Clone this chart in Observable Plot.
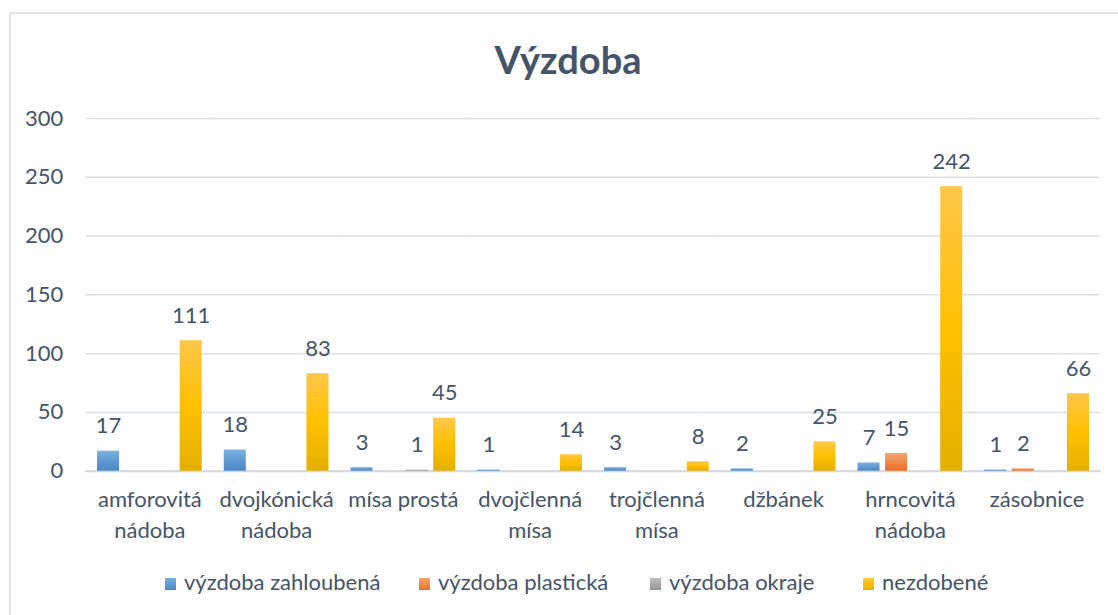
<!DOCTYPE html>
<html><head><meta charset="utf-8">
<script src="https://cdn.jsdelivr.net/npm/d3@7"></script>
<script src="https://cdn.jsdelivr.net/npm/@observablehq/plot@0.6"></script>
<style>
body{margin:0;background:#fff;font-family:Lato,"Open Sans",sans-serif;}
#wrap{position:relative;width:1118px;height:615px;overflow:hidden;background:#fff}
#frame{position:absolute;left:9px;top:12px;width:1200px;height:700px;border:2px solid #dfe3e9;box-sizing:border-box}
#title{position:absolute;left:0;width:1136px;top:40px;line-height:1;text-align:center;font-weight:bold;font-size:38px;color:#44546a}
#chart{position:absolute;left:0;top:0}
#legend{position:absolute;top:570px;left:0;height:24px;font-size:22px;color:#44546a;line-height:24px}
.item{position:absolute;white-space:nowrap}
.sw{display:inline-block;width:11px;height:12px;margin-right:8px;vertical-align:0px}
</style></head>
<body>
<div id="wrap">
  <div id="frame"></div>
  <div id="title">Výzdoba</div>
  <div id="chart"></div>
  <div id="legend"></div>
</div>
<script>
const categories = ["amforovitá\nnádoba","dvojkónická\nnádoba","mísa prostá","dvojčlenná\nmísa","trojčlenná\nmísa","džbánek","hrncovitá\nnádoba","zásobnice"];
const series = ["výzdoba zahloubená","výzdoba plastická","výzdoba okraje","nezdobené"];
const zahloubena = [17,18,3,1,3,2,7,1];
const plasticka  = [null,null,null,null,null,null,15,2];
const okraje     = [null,null,1,null,null,null,null,null];
const nezdobene  = [111,83,45,14,8,25,242,66];
const yTicks = [0,50,100,150,200,250,300];

const gradients = [
  {id:"gBlue",   stops:[["0%","#7bb0e1"],["100%","#4a87c7"]], swatch:"linear-gradient(#7bb0e1,#4a87c7)"},
  {id:"gOrange", stops:[["0%","#f6a570"],["100%","#e96f25"]], swatch:"linear-gradient(#f6a570,#e96f25)"},
  {id:"gGray",   stops:[["0%","#bdbdbd"],["100%","#979797"]], swatch:"linear-gradient(#bdbdbd,#979797)"},
  {id:"gYellow", stops:[["0%","#ffc74a"],["50%","#ffc000"],["100%","#e3b000"]], swatch:"linear-gradient(#ffc74a,#ffc000,#e3b000)"}
];

const seriesValues = [zahloubena, plasticka, okraje, nezdobene];
const data = [];
categories.forEach((c, i) => {
  series.forEach((s, j) => {
    const v = seriesValues[j][i];
    if (v != null) data.push({category: c, series: s, value: v});
  });
});

const textColor = "#44546a";
const W = 1118, mL = 86, mR = 18;
const fxPad = 0.13;
const gapHalf = ((W - mL - mR) / categories.length) * fxPad / 2;

const chart = Plot.plot({
  width: W, height: 560,
  marginLeft: mL, marginRight: mR, marginTop: 118, marginBottom: 89.3,
  style: {fontFamily: "Lato, 'Open Sans', sans-serif", color: textColor, background: "transparent", overflow: "visible"},
  fx: {domain: categories, paddingInner: fxPad, paddingOuter: fxPad / 2, round: false, label: null},
  x: {domain: series, axis: null, paddingInner: 0.2, paddingOuter: 0.1, round: false},
  y: {domain: [0, 300], label: null},
  color: {domain: series, range: gradients.map(g => `url(#${g.id})`)},
  marks: [
    Plot.ruleY(yTicks, {stroke: "#dbe0e7", strokeWidth: 1.5, insetLeft: -gapHalf - 0.5, insetRight: -gapHalf - 0.5}),
    Plot.ruleY([0], {stroke: "#d3d9e1", strokeWidth: 2, insetLeft: -gapHalf - 0.5, insetRight: -gapHalf - 0.5}),
    Plot.axisY(yTicks, {tickSize: 0, tickPadding: 31.5, fontSize: 22, fill: textColor, label: null}),
    Plot.axisFx({anchor: "bottom", tickSize: 0, tickPadding: 14, fontSize: 22, lineHeight: 1.4, fill: textColor, label: null}),
    Plot.barY(data, {fx: "category", x: "series", y: "value", fill: "series"}),
    Plot.text(data, {fx: "category", x: "series", y: "value", text: d => String(d.value), dy: -25, fontSize: 22, fill: textColor})
  ]
});

const svg = chart.tagName.toLowerCase() === "svg" ? chart : chart.querySelector("svg");
const defs = d3.select(svg).insert("defs", ":first-child");
gradients.forEach(g => {
  const lg = defs.append("linearGradient").attr("id", g.id).attr("x1", 0).attr("y1", 0).attr("x2", 0).attr("y2", 1);
  g.stops.forEach(([o, c]) => lg.append("stop").attr("offset", o).attr("stop-color", c));
});
document.getElementById("chart").appendChild(chart);

const legendX = [165, 419, 650, 863];
const legend = document.getElementById("legend");
series.forEach((s, i) => {
  const it = document.createElement("div");
  it.className = "item";
  it.style.left = legendX[i] + "px";
  it.innerHTML = `<span class="sw" style="background:${gradients[i].swatch}"></span>${s}`;
  legend.appendChild(it);
});
</script>
</body></html>
